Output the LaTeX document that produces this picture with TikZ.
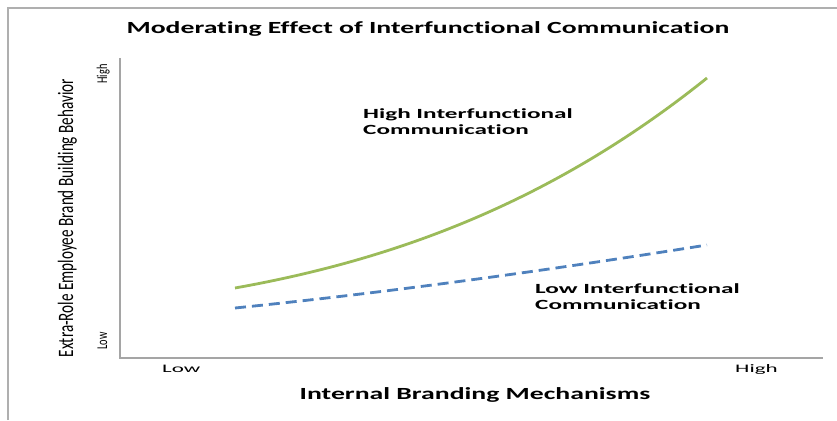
\documentclass[tikz,border=0pt]{standalone}
\usepackage{fontspec}
\setmainfont{Carlito}
\newfontfamily\titlefont[FakeStretch=1.63,Ligatures=NoCommon]{Carlito}
\newfontfamily\labfont[FakeStretch=1.8,Ligatures=NoCommon]{Carlito}
\newfontfamily\tickfont[FakeStretch=2.0,Ligatures=NoCommon]{Carlito}
\newfontfamily\narrowfont[FakeStretch=0.69,Ligatures=NoCommon]{Carlito}
\definecolor{framegray}{RGB}{175,175,175}
\definecolor{axisgray}{RGB}{165,165,165}
\definecolor{highgreen}{RGB}{155,187,89}
\definecolor{lowblue}{RGB}{79,129,189}

\begin{document}
\begin{tikzpicture}[x=1pt,y=1pt,
   bigtext/.style={inner sep=0, font=\titlefont\bfseries\fontsize{17}{20}\selectfont},
   curvetext/.style={inner sep=0, align=left, font=\labfont\bfseries\fontsize{14}{16}\selectfont},
   ticktext/.style={inner sep=0, font=\tickfont\fontsize{11.5}{14}\selectfont},
   sidetext/.style={inner sep=0, rotate=90, anchor=base}]
   \useasboundingbox (0,0) rectangle (837,420);
   \draw[framegray, line width=2pt] (7.5,0) -- (7.5,411.5) -- (837,411.5);

   \coordinate (origin) at (120,62);
   \coordinate (ytop) at (120,362);
   \coordinate (xend) at (823,62);
   \draw[axisgray, line width=1.3pt] (ytop) -- (origin) -- (xend);

   % the two lines
   \draw[highgreen, line width=2.8pt] (235,132) .. controls (392,160) and (550,216) .. (707,342);
   \draw[lowblue, line width=2.8pt, dash pattern=on 11pt off 6pt] (235,112) .. controls (392,128) and (550,150) .. (707,175);

   \node[bigtext, anchor=base] (title) at (428,386) {Moderating Effect of Interfunctional Communication};

   \node[curvetext, anchor=north west] (highlab) at (363,312) {High Interfunctional\\Communication};
   \node[curvetext, anchor=north west] (lowlab) at (535,137) {Low Interfunctional\\Communication};

   \node[ticktext, anchor=base west] (xlow) at (162,47) {Low};
   \node[ticktext, anchor=base west] (xhigh) at (735,47) {High};
   \node[bigtext, anchor=base] (xlabel) at (475,20) {Internal Branding Mechanisms};

   \node[sidetext, font=\narrowfont\fontsize{15}{18}\selectfont] (yhigh) at (107,346) {High};
   \node[sidetext, font=\narrowfont\fontsize{15}{18}\selectfont] (ylow) at (107,79) {Low};
   \node[sidetext, font=\narrowfont\fontsize{22}{26}\selectfont] (ylabel) at (73,202) {Extra-Role Employee Brand Building Behavior};
\end{tikzpicture}
\end{document}
